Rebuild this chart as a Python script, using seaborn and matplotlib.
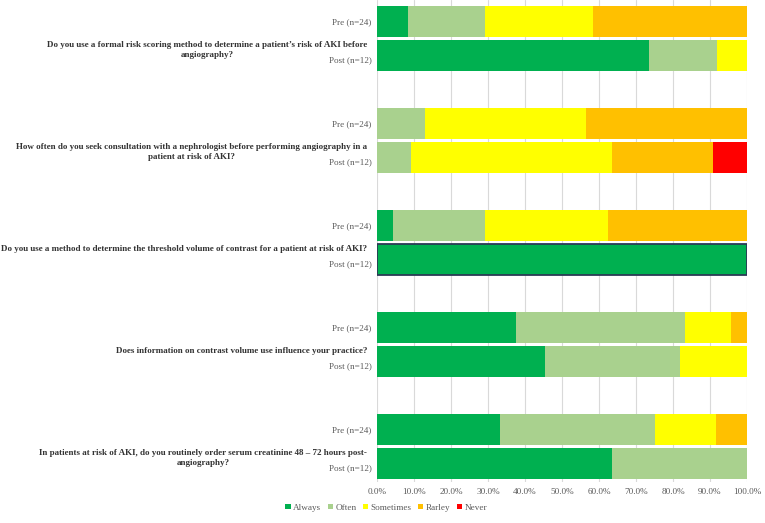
import numpy as np
import pandas as pd
import matplotlib
matplotlib.use("Agg")
import matplotlib.pyplot as plt
import matplotlib.transforms as mtransforms
from matplotlib.patches import Patch
import seaborn as sns

# ---- data (percent of respondents) ----
questions = [
    "Do you use a formal risk scoring method to determine a patient\u2019s risk of AKI before\nangiography?",
    "How often do you seek consultation with a nephrologist before performing angiography in a\npatient at risk of AKI?",
    "Do you use a method to determine the threshold volume of contrast for a patient at risk of AKI?",
    "Does information on contrast volume use influence your practice?",
    "In patients at risk of AKI, do you routinely order serum creatinine 48 \u2013 72 hours post-\nangiography?",
]
groups = ["Pre (n=24)", "Post (n=12)"]
responses = ["Always", "Often", "Sometimes", "Rarley", "Never"]

# one value per bar: Q1 pre, Q1 post, Q2 pre, Q2 post, ...
always_pct = [8.3, 73.6, 0.0, 0.0, 4.2, 100.0, 37.5, 45.5, 33.3, 63.6]
often_pct = [20.8, 18.3, 12.9, 9.1, 25.0, 0.0, 45.8, 36.4, 41.7, 36.4]
sometimes_pct = [29.2, 8.1, 43.5, 54.5, 33.3, 0.0, 12.5, 18.1, 16.7, 0.0]
rarely_pct = [41.7, 0.0, 43.6, 27.3, 37.5, 0.0, 4.2, 0.0, 8.3, 0.0]
never_pct = [0.0, 0.0, 0.0, 9.1, 0.0, 0.0, 0.0, 0.0, 0.0, 0.0]

colors = ["#00B050", "#A9D18E", "#FFFF00", "#FFC000", "#FF0000"]

# ---- build a table; each question takes 3 slots (pre, post, gap) ----
rows = []
for i, q in enumerate(questions):
    for j, g in enumerate(groups):
        k = 2 * i + j
        rows.append({"question": q, "group": g, "pos": 3 * i + j,
                     "Always": always_pct[k], "Often": often_pct[k],
                     "Sometimes": sometimes_pct[k], "Rarley": rarely_pct[k],
                     "Never": never_pct[k]})
df = pd.DataFrame(rows)
cum = df[responses].cumsum(axis=1)

sns.set_style("white")
plt.rcParams["font.family"] = ["Liberation Serif", "DejaVu Serif"]

fig = plt.figure(figsize=(7.65, 5.23), dpi=100)
ax = fig.add_axes([377 / 765, 1 - 482 / 523, 370 / 765, 482 / 523])

# stacked bars: draw cumulative totals from the right-most segment backwards
for resp, col in reversed(list(zip(responses, colors))):
    sns.barplot(x=cum[resp], y=df["pos"], orient="h", native_scale=True,
                color=col, saturation=1, width=0.91, linewidth=0,
                errorbar=None, ax=ax)

# the single fully-"Always" bar has a dark outline in the original
full = df[df["Always"] >= 100]
sns.barplot(x=full["Always"], y=full["pos"], orient="h", native_scale=True,
            color="#2B3A55", fill=False, width=0.91, linewidth=1.3,
            errorbar=None, ax=ax)

ax.set_xlim(0, 100)
ax.set_ylim(13.55, -0.63)
xt = np.arange(0, 101, 10)
ax.set_xticks(xt)
ax.set_xticklabels([f"{v:.1f}%" for v in xt])
ax.set_yticks(df["pos"])
ax.set_yticklabels(df["group"])
ax.set_xlabel("")
ax.set_ylabel("")
ax.tick_params(axis="both", length=0, labelsize=6.6, colors="#595959")
ax.tick_params(axis="y", pad=4)
ax.tick_params(axis="x", pad=4)
ax.xaxis.grid(True, color="#D9D9D9", linewidth=0.8)
ax.yaxis.grid(False)
ax.set_axisbelow(True)
for s in ax.spines.values():
    s.set_visible(False)

# "Post" labels sit a little below their bar centre in the original
shift = mtransforms.ScaledTranslation(0, -3 / 72, fig.dpi_scale_trans)
for lab in ax.get_yticklabels()[1::2]:
    lab.set_transform(lab.get_transform() + shift)

# question labels (outer category level), first line sits just below group centre
trans = mtransforms.blended_transform_factory(ax.transAxes, ax.transData)
for i, q in enumerate(questions):
    ax.text(-0.027, 3 * i + 0.58, q, transform=trans, ha="right", va="top",
            multialignment="center", fontsize=6.48, fontweight="bold",
            color="#333333", linespacing=1.3)

handles = [Patch(facecolor=c, edgecolor="none", label=r) for r, c in zip(responses, colors)]
leg = fig.legend(handles=handles, loc="center", bbox_to_anchor=(0.505, 0.029),
                 ncol=5, frameon=False, fontsize=6.6, handlelength=0.55,
                 handleheight=0.55, handletextpad=0.25, columnspacing=0.75)
for t in leg.get_texts():
    t.set_color("#595959")

fig.savefig("out.png", dpi=100)
